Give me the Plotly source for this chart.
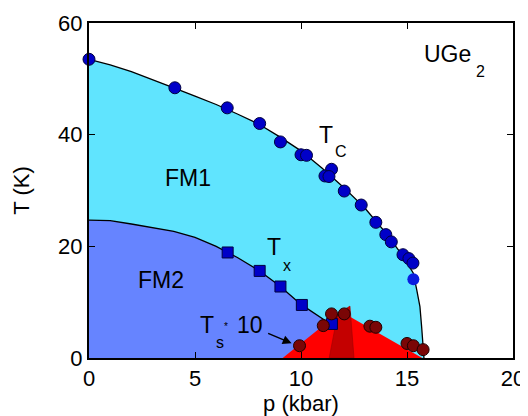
import plotly.graph_objects as go

# ---- data ----
# Tc (Curie temperature) measured points
tc_p = [0.0, 4.05, 6.52, 8.05, 9.03, 10.0, 10.26, 11.44, 11.13, 11.32, 12.04,
        12.84, 13.53, 14.0, 14.26, 14.81, 15.09, 15.28]
tc_T = [53.5, 48.4, 44.8, 42.0, 38.7, 36.4, 36.3, 33.8, 32.6, 32.5, 29.9,
        27.4, 24.3, 22.1, 20.8, 18.5, 17.8, 17.0]
# extra Tc point without outline
tc2_p = [15.3]
tc2_T = [14.1]
# Tc phase boundary line
tcl_p = [0, 1, 2, 3, 4, 5, 6, 7, 8, 9, 10, 11, 12, 13, 14, 14.8, 15.3, 15.46, 15.61, 15.69, 15.74, 15.8]
tcl_T = [53.5, 52.5, 51.3, 49.9, 48.4, 46.9, 45.4, 43.7, 41.9, 39.6, 37.1, 34.0, 30.6, 26.9, 22.4,
         18.3, 15.2, 12.2, 9.2, 5.6, 2.0, 0.0]
# Tx measured points
tx_p = [6.54, 8.05, 9.03, 10.04, 11.46]
tx_T = [18.9, 15.6, 12.8, 9.5, 6.1]
# Tx phase boundary line
txl_p = [0, 1, 2, 3, 4, 5, 6, 6.54, 7, 8, 9, 10, 10.7, 11.3]
txl_T = [24.7, 24.6, 24.0, 23.4, 22.7, 21.6, 20.0, 18.9, 18.0, 15.7, 12.9, 9.6, 7.8, 6.3]
# Ts*10 measured points
ts_p = [9.93, 11.05, 11.44, 12.04, 13.25, 13.53, 15.0, 15.3, 15.76]
ts_T = [2.2, 5.8, 7.9, 7.9, 5.7, 5.5, 2.6, 2.2, 1.5]
# superconducting dome (Ts*10) outline
sc_p = [9.13, 11.2, 11.73, 12.31, 15.72, 9.13]
sc_T = [0.0, 6.3, 7.9, 7.4, 0.0, 0.0]
# dark red spike
sp_p = [11.33, 11.73, 12.31, 12.5, 11.33]
sp_T = [0.0, 7.9, 9.3, 0.0, 0.0]

CYAN = "#60E4FE"
FM2C = "#6684FF"
RED = "#FF0000"
DRED = "#C40000"
BLUE = "#0000C8"
MAROON = "#7A0606"
FONT = "Liberation Sans, Arial, sans-serif"

fig = go.Figure()

# FM1 (cyan) region under Tc
fig.add_trace(go.Scatter(x=tcl_p, y=tcl_T, mode="lines", fill="tozeroy",
                         fillcolor=CYAN, line=dict(color="black", width=1.3),
                         hoverinfo="skip", showlegend=False))
# FM2 region under Tx
fm2_p = txl_p + [9.13, 0, 0]
fm2_T = txl_T + [0, 0, txl_T[0]]
fig.add_trace(go.Scatter(x=fm2_p, y=fm2_T, mode="lines", fill="toself",
                         fillcolor=FM2C, line=dict(width=0),
                         hoverinfo="skip", showlegend=False))
fig.add_trace(go.Scatter(x=txl_p, y=txl_T, mode="lines",
                         line=dict(color="black", width=1.3),
                         hoverinfo="skip", showlegend=False))
# superconducting region
fig.add_trace(go.Scatter(x=sc_p, y=sc_T, mode="lines", fill="toself",
                         fillcolor=RED, line=dict(width=0),
                         hoverinfo="skip", showlegend=False))
fig.add_trace(go.Scatter(x=sp_p, y=sp_T, mode="lines", fill="toself",
                         fillcolor=DRED, line=dict(width=0.6, color="#A00000"),
                         hoverinfo="skip", showlegend=False))
# markers
fig.add_trace(go.Scatter(x=tc_p, y=tc_T, mode="markers",
                         marker=dict(symbol="circle", size=12, color=BLUE,
                                     line=dict(color="#000040", width=1)),
                         showlegend=False, cliponaxis=False))
fig.add_trace(go.Scatter(x=tc2_p, y=tc2_T, mode="markers",
                         marker=dict(symbol="circle", size=12, color="#0A1EE0",
                                     line=dict(width=0)),
                         showlegend=False))
fig.add_trace(go.Scatter(x=tx_p, y=tx_T, mode="markers",
                         marker=dict(symbol="square", size=11, color=BLUE,
                                     line=dict(color="#000040", width=1)),
                         showlegend=False))
fig.add_trace(go.Scatter(x=ts_p, y=ts_T, mode="markers",
                         marker=dict(symbol="circle", size=12, color=MAROON,
                                     line=dict(color="#200000", width=1)),
                         showlegend=False))

def txt(x, y, s, size=23):
    fig.add_annotation(x=x, y=y, text=s, showarrow=False, xanchor="center",
                       yanchor="middle", font=dict(family=FONT, size=size, color="black"))

txt(4.67, 32.2, "FM1")
txt(3.40, 13.95, "FM2")
txt(11.18, 39.9, "T")
txt(11.89, 36.9, "C", 16)
txt(8.73, 19.8, "T")
txt(9.36, 16.6, "x", 16)
txt(16.89, 54.4, "UGe")
txt(18.49, 51.3, "2", 16)
txt(5.57, 5.9, "T")
txt(6.16, 2.8, "s", 16)
txt(6.45, 5.6, "*", 10)
txt(7.59, 5.9, "10")
fig.add_annotation(x=9.56, y=2.63, ax=8.38, ay=4.53, axref="x", ayref="y",
                   xref="x", yref="y", text="", showarrow=True,
                   arrowhead=2, arrowsize=1.2, arrowwidth=1.5, arrowcolor="black")

axis_common = dict(showline=True, linecolor="black", linewidth=2, mirror="ticks",
                   ticks="inside", ticklen=6, tickwidth=1.2, tickcolor="black",
                   showgrid=False, zeroline=False, automargin=False,
                   tickfont=dict(family=FONT, size=22, color="black"))
fig.update_xaxes(range=[0, 20], tickvals=[0, 5, 10, 15, 20],
                 title=dict(text="p (kbar)", font=dict(family=FONT, size=22, color="black"), standoff=5),
                 **axis_common)
fig.update_yaxes(range=[0, 60], tickvals=[0, 20, 40, 60],
                 title=dict(text="T (K)", font=dict(family=FONT, size=22, color="black"), standoff=22),
                 **axis_common)
# page body has an 8px default margin: figure sized/margined so plot area lands as in the reference
fig.update_layout(width=520, height=408, margin=dict(l=81, r=15, t=15, b=58),
                  plot_bgcolor="white", paper_bgcolor="white", showlegend=False)

fig.write_html("out.html")
